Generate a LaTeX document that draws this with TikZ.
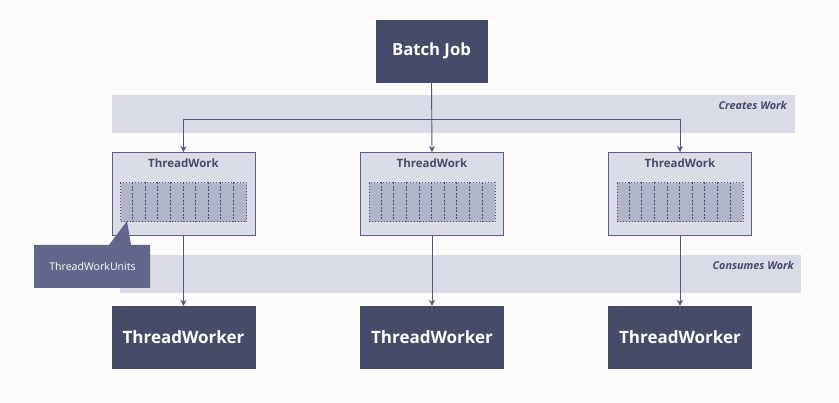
\documentclass[tikz,border=0pt]{standalone}
\usepackage{fontspec}
\setmainfont{Open Sans}
\usetikzlibrary{arrows.meta,calc}
\definecolor{bgc}{HTML}{FCFBFA}
\definecolor{darkc}{HTML}{464B6A}
\definecolor{bandc}{HTML}{D9DBE6}
\definecolor{twfill}{HTML}{DADCE8}
\definecolor{twline}{HTML}{5B6082}
\definecolor{innerc}{HTML}{B0B5CA}
\definecolor{callc}{HTML}{60678A}
\definecolor{linec}{HTML}{535877}
\begin{document}
\begin{tikzpicture}[x=1pt,y=-1pt,
  darkbox/.style={fill=darkc,draw=darkc,text=white,font=\bfseries,minimum width=143pt,minimum height=62pt,inner sep=0pt},
  twbox/.style={fill=twfill,draw=twline,line width=0.9pt,minimum width=143pt,minimum height=83pt,inner sep=0pt},
  unitsbox/.style={fill=innerc,draw=darkc,line width=1pt,dotted,minimum width=126pt,minimum height=39pt,inner sep=0pt},
  divider/.style={draw=darkc,line width=0.8pt,dash pattern=on 2pt off 1.5pt},
  twtitle/.style={font=\fontsize{11.5}{13}\selectfont\bfseries,text=darkc,inner sep=0pt},
  band/.style={fill=bandc,draw=none},
  bandlabel/.style={font=\fontsize{10.8}{12}\selectfont\bfseries\itshape,text=darkc,inner sep=0pt,anchor=east},
  conn/.style={draw=linec,line width=0.9pt},
  arr/.style={conn,-{Stealth[length=6pt,width=6pt,inset=2pt]}}
]
\useasboundingbox (0,0) rectangle (839,403);
\fill[bgc] (0,0) rectangle (839,403);
% bands
\fill[band] (112,95) rectangle (795,133);
\node[bandlabel] (creates) at (787,105.5) {Creates Work};
\fill[band] (120,255) rectangle (801,293);
\node[bandlabel] (consumes) at (794,265.5) {Consumes Work};
% batch job
\node[darkbox,minimum width=111pt,font=\fontsize{16.7}{19}\selectfont\bfseries] (batch) at (431.5,51) {Batch Job};
% threadwork boxes
\foreach \i/\x in {1/183.5,2/432,3/680}{
  \node[twbox] (tw\i) at (\x,194) {};
  \node[twtitle] (twt\i) at (\x,163.5) {ThreadWork};
  \node[unitsbox] (units\i) at ($(\x,202.5)$) {};
  \foreach \k in {1,...,9}{
    \draw[divider] ($(units\i.north west)+(12.6*\k,0)$) -- ($(units\i.south west)+(12.6*\k,0)$);
  }
  \node[darkbox,font=\fontsize{17}{20}\selectfont\bfseries] (worker\i) at (\x,337) {ThreadWorker};
}
% connectors
\coordinate (junc) at (batch.south |- 0,119);
\draw[arr] (batch.south) -- (tw2.north);
\draw[arr] (junc) -| (tw1.north);
\draw[arr] (junc) -| (tw3.north);
\foreach \i in {1,2,3}{
  \draw[arr] (tw\i.south) -- (worker\i.north);
}
% callout
\fill[callc] (34,245) -- (109,245) -- (127,221) -- (131,245) -- (150,245) -- (150,288) -- (34,288) -- cycle;
\node[font=\fontsize{10.6}{12}\selectfont,text=white,inner sep=0pt] (callout) at (92.5,267) {ThreadWorkUnits};
\end{tikzpicture}
\end{document}
